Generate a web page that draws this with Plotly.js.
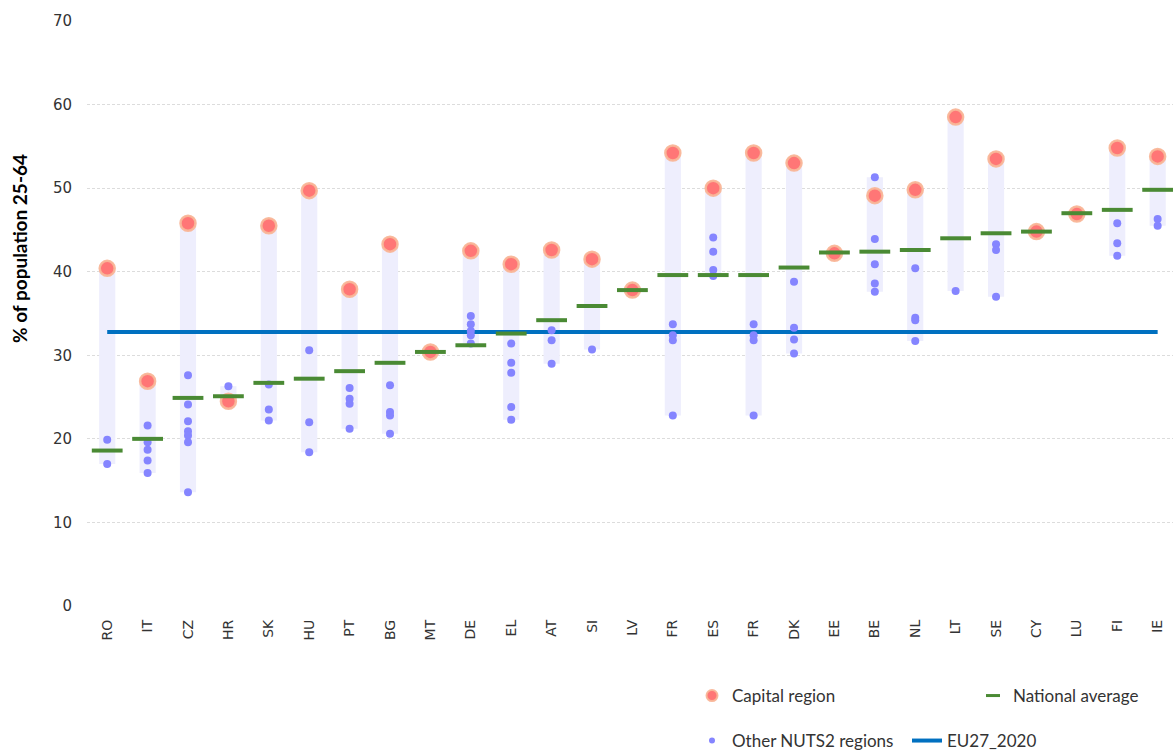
<!DOCTYPE html>
<html>
<head>
<meta charset="utf-8">
<script src="https://cdn.plot.ly/plotly-3.0.1.min.js"></script>
<style>html,body{margin:0;padding:0;background:#fff;}#chart{width:1173px;height:751px;}</style>
</head>
<body>
<div id="chart"></div>
<script>
// ---- data ----
const countries = ['RO','IT','CZ','HR','SK','HU','PT','BG','MT','DE','EL','AT','SI','LV','FR','ES','FR','DK','EE','BE','NL','LT','SE','CY','LU','FI','IE'];
const capitalRegion = [40.4, 26.9, 45.8, 24.5, 45.5, 49.7, 37.9, 43.3, 30.4, 42.5, 40.9, 42.6, 41.5, 37.8, 54.2, 50.0, 54.2, 53.0, 42.2, 49.1, 49.8, 58.5, 53.5, 44.8, 46.9, 54.8, 53.8];
const nationalAverage = [18.6, 20.0, 24.9, 25.1, 26.7, 27.2, 28.1, 29.1, 30.4, 31.2, 32.6, 34.2, 35.9, 37.8, 39.6, 39.6, 39.6, 40.5, 42.3, 42.4, 42.6, 44.0, 44.6, 44.8, 47.0, 47.4, 49.8];
const otherRegions = [
  [19.9, 17.0],
  [21.6, 19.6, 18.7, 17.4, 15.9],
  [27.6, 24.1, 22.1, 20.9, 20.4, 19.6, 13.6],
  [26.3],
  [26.5, 23.5, 22.2],
  [30.6, 22.0, 18.4],
  [26.1, 24.8, 24.2, 21.2],
  [26.4, 23.2, 22.8, 20.6],
  [],
  [34.7, 33.7, 32.9, 32.4, 31.4],
  [31.4, 29.1, 27.9, 23.8, 22.3],
  [33.0, 31.8, 29.0],
  [30.7],
  [],
  [33.7, 32.4, 31.8, 22.8],
  [44.1, 42.4, 40.2, 39.5],
  [33.7, 32.4, 31.8, 22.8],
  [38.8, 33.3, 31.9, 30.2],
  [],
  [51.3, 43.9, 40.9, 38.6, 37.6],
  [40.4, 34.5, 34.2, 31.7],
  [37.7],
  [43.3, 42.6, 37.0],
  [],
  [],
  [45.8, 43.4, 41.9],
  [46.3, 45.5]
];
const eu27 = 32.8;
const yTicks = [0, 10, 20, 30, 40, 50, 60, 70];

// ---- derived ----
const xi = countries.map((_, i) => i);
const lows = xi.map(i => Math.min(capitalRegion[i], ...otherRegions[i]));
const highs = xi.map(i => Math.max(capitalRegion[i], ...otherRegions[i]));
const ox = [], oy = [];
otherRegions.forEach((arr, i) => arr.forEach(v => { ox.push(i); oy.push(v); }));

const capColor = '#FF7676', capLine = 'rgba(249,182,152,0.95)';
const dotColor = '#8585FF';
const green = '#4A8A34';
const blue = '#0070C0';

const traces = [
  {type: 'bar', x: xi, base: lows, y: xi.map(i => highs[i] - lows[i]), width: 0.4,
   marker: {color: '#EEEEFD', line: {width: 0}}, showlegend: false, hoverinfo: 'skip'},
  {type: 'scatter', mode: 'lines', x: [0, countries.length - 1], y: [eu27, eu27],
   line: {color: blue, width: 4}, showlegend: false, hoverinfo: 'skip'},
  {type: 'scatter', mode: 'markers', x: xi, y: capitalRegion,
   marker: {size: 15, color: capColor, line: {color: capLine, width: 2.5}}, showlegend: false},
  {type: 'scatter', mode: 'markers', x: ox, y: oy,
   marker: {size: 8, color: dotColor}, showlegend: false},
  {type: 'scatter', mode: 'markers', x: xi, y: nationalAverage,
   marker: {symbol: 'line-ew', size: 22, color: green, line: {color: green, width: 4}}, showlegend: false},
  // legend entries
  {type: 'scatter', mode: 'markers', x: [null], y: [null], name: 'Capital region', legend: 'legend',
   marker: {size: 11, color: capColor, line: {color: capLine, width: 2}}},
  {type: 'scatter', mode: 'markers', x: [null], y: [null], name: 'National average', legend: 'legend2',
   marker: {symbol: 'line-ew', size: 10, color: green, line: {color: green, width: 3}}},
  {type: 'scatter', mode: 'markers', x: [null], y: [null], name: 'Other NUTS2 regions', legend: 'legend3',
   marker: {size: 6, color: dotColor}},
  {type: 'scatter', mode: 'lines', x: [null], y: [null], name: 'EU27_2020', legend: 'legend4',
   line: {color: blue, width: 4}}
];

const legFont = {family: 'Lato, "Noto Sans", sans-serif', size: 17, color: '#333333'};
function leg(px, py) {
  return {xref: 'container', yref: 'container', x: px / 1173, y: 1 - py / 751,
          xanchor: 'left', yanchor: 'middle', font: legFont, bgcolor: 'rgba(0,0,0,0)',
          borderwidth: 0, orientation: 'v'};
}

const layout = {
  width: 1173, height: 751,
  margin: {l: 87, r: 0, t: 21, b: 145, autoexpand: false},
  paper_bgcolor: '#ffffff', plot_bgcolor: '#ffffff',
  showlegend: true,
  xaxis: {
    range: [-0.5, 26.38], tickvals: xi, ticktext: countries, tickangle: -90,
    showgrid: false, zeroline: false, showline: false, ticks: '', automargin: false,
    tickfont: {family: '"DejaVu Sans", sans-serif', size: 14, color: '#333333'},
    ticklabelstandoff: 10
  },
  yaxis: {
    range: [0, 70], tickvals: yTicks, showgrid: true, gridcolor: '#dcdcdc', griddash: '3px,2px', gridwidth: 1,
    zeroline: false, showline: false, ticks: '', automargin: false,
    tickfont: {family: '"DejaVu Sans", sans-serif', size: 15, color: '#333333'},
    ticklabelstandoff: 14
  },
  legend: leg(692, 696),
  legend2: leg(973, 696),
  legend3: leg(692, 741),
  legend4: leg(907, 741),
  annotations: [{
    text: '<b>% of population 25-64</b>', textangle: -90, showarrow: false,
    xref: 'paper', yref: 'paper', x: 0, y: (606 - 249) / 585, xanchor: 'center', yanchor: 'middle',
    xshift: -67, font: {family: 'Lato, sans-serif', size: 19, color: '#000000', weight: 900}
  }]
};

Plotly.newPlot('chart', traces, layout, {displayModeBar: false, staticPlot: true});
</script>
</body>
</html>
